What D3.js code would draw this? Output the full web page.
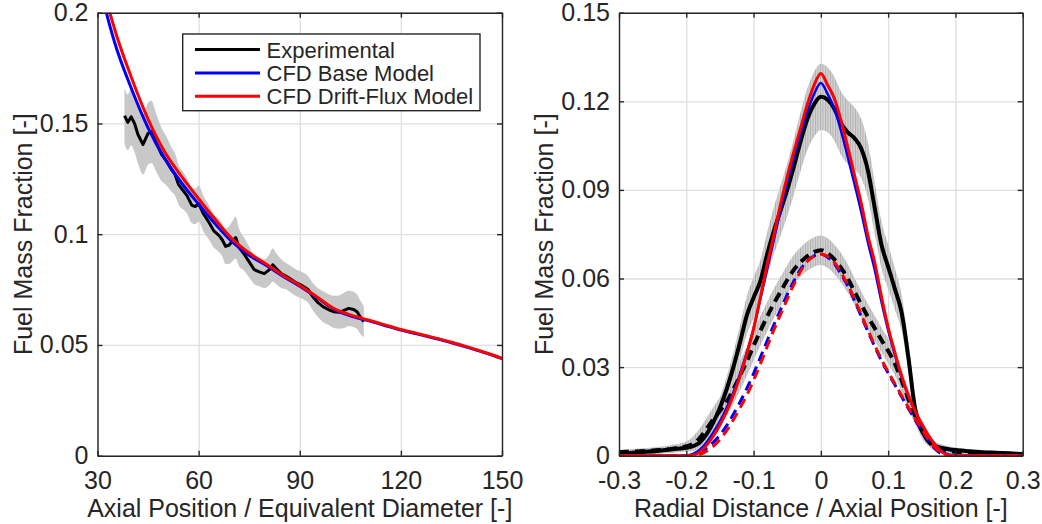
<!DOCTYPE html>
<html>
<head>
<meta charset="utf-8">
<script src="https://cdn.jsdelivr.net/npm/d3@7"></script>
<style>
  body { margin: 0; background: #fff; }
  svg text { font-family: "Liberation Sans", Arial, Helvetica, sans-serif; fill: #262626; }
</style>
</head>
<body>
<div id="chart"></div>
<script>
// Left panel: centreline decay

var axialPos = [30, 32, 35, 40, 45, 50, 55, 60, 65, 70, 75, 80, 85, 90, 95, 100, 105, 110, 115, 120, 125, 130, 135, 140, 145, 150]
var axialBase = [0.219, 0.204, 0.187, 0.166, 0.148, 0.134, 0.123, 0.1135, 0.1045, 0.0965, 0.0905, 0.086, 0.081, 0.0765, 0.0715, 0.0662, 0.0632, 0.0611, 0.0589, 0.0567, 0.0549, 0.053, 0.051, 0.0488, 0.0464, 0.0438]
var axialDrift = [0.226, 0.210, 0.193, 0.171, 0.152, 0.137, 0.126, 0.116, 0.1065, 0.0978, 0.0915, 0.0866, 0.0815, 0.0769, 0.0718, 0.0665, 0.0636, 0.0614, 0.0592, 0.057, 0.0551, 0.0532, 0.0512, 0.049, 0.0466, 0.044]

var expAxialPos = [38, 39, 40, 41, 42, 43.5, 45, 46, 47.5, 49, 50.5, 52, 53, 54, 55.5, 56.5, 58, 59, 60, 61.5,
  63, 64.5, 66, 67, 68, 69, 70, 71, 72, 73.5, 75, 76.5, 78, 79.5, 81, 82, 83, 84.5, 86, 87.5,
  89, 90.5, 92.5, 94, 95.5, 97, 98.5, 100, 101.5, 103, 104.5, 106, 107, 108, 109]
var expAxial = [0.1535, 0.1505, 0.1530, 0.1500, 0.1450, 0.1405, 0.1455, 0.1462, 0.1410, 0.1360, 0.1330, 0.1290, 0.1270, 0.1225, 0.1195, 0.1175, 0.1130, 0.1125, 0.1138, 0.1090,
  0.1055, 0.1015, 0.0995, 0.0975, 0.0945, 0.0950, 0.0968, 0.0985, 0.0940, 0.0910, 0.0875, 0.0840, 0.0830, 0.0822, 0.0840, 0.0862, 0.0845, 0.0822, 0.0810, 0.0795,
  0.0780, 0.0770, 0.0750, 0.0715, 0.0690, 0.0672, 0.0660, 0.0650, 0.0648, 0.0655, 0.0665, 0.0660, 0.0650, 0.0625, 0.0605]
var expAxialSd = [0.0125, 0.0125, 0.013, 0.013, 0.013, 0.0135, 0.014, 0.014, 0.013, 0.012, 0.011, 0.010, 0.0095, 0.009, 0.0085, 0.008, 0.008, 0.008, 0.0082, 0.008,
  0.0078, 0.0075, 0.0075, 0.0075, 0.008, 0.0085, 0.009, 0.0095, 0.0085, 0.0075, 0.007, 0.0065, 0.0065, 0.0065, 0.007, 0.0075, 0.007, 0.0065, 0.006, 0.006,
  0.006, 0.006, 0.006, 0.0062, 0.0065, 0.007, 0.007, 0.0072, 0.0075, 0.008, 0.008, 0.008, 0.0078, 0.0075, 0.007]

// Right panel: radial profiles (near = solid, far = dashed)

var radialPos = [-0.30, -0.28, -0.26, -0.24, -0.22, -0.20,
  -0.19, -0.18, -0.17, -0.16, -0.15, -0.14, -0.13, -0.12, -0.11, -0.10,
  -0.09, -0.08, -0.07, -0.06, -0.05, -0.04, -0.03, -0.02, -0.01, 0,
  0.01, 0.02, 0.03, 0.04, 0.05, 0.06, 0.07, 0.08, 0.09, 0.10,
  0.11, 0.12, 0.13, 0.14, 0.15, 0.16, 0.17, 0.18, 0.19,
  0.20, 0.22, 0.24, 0.26, 0.28, 0.30]

var nearExp = [0.0008, 0.0010, 0.0013, 0.0017, 0.0022, 0.0027,
  0.0032, 0.0045, 0.0072, 0.0112, 0.0162, 0.0225, 0.0300, 0.0385, 0.0475, 0.0535,
  0.0590, 0.0680, 0.0760, 0.0830, 0.0900, 0.0980, 0.1065, 0.1140, 0.1190, 0.1215,
  0.1205, 0.1175, 0.1125, 0.1095, 0.1075, 0.1040, 0.0965, 0.0840, 0.0715, 0.0640,
  0.0565, 0.0485, 0.0335, 0.0160, 0.0085, 0.0050, 0.0033, 0.0026, 0.0022,
  0.0019, 0.0015, 0.0012, 0.0010, 0.0008, 0.0006]
var nearSd = [0.0008, 0.0009, 0.0010, 0.0011, 0.0012, 0.0013,
  0.0015, 0.0018, 0.0022, 0.0028, 0.0035, 0.0042, 0.0050, 0.0058, 0.0065, 0.0070,
  0.0072, 0.0075, 0.0080, 0.0085, 0.0090, 0.0095, 0.0100, 0.0105, 0.0110, 0.0112,
  0.0110, 0.0108, 0.0108, 0.0108, 0.0105, 0.0100, 0.0095, 0.0088, 0.0080, 0.0075,
  0.0070, 0.0062, 0.0050, 0.0035, 0.0025, 0.0018, 0.0014, 0.0012, 0.0010,
  0.0009, 0.0008, 0.0007, 0.0006, 0.0006, 0.0005]
var nearBase = [0, 0, 0, 0, 0, 0.0001,
  0.0006, 0.0020, 0.0045, 0.0078, 0.0116, 0.0162, 0.0215, 0.0278, 0.0350, 0.0430,
  0.0530, 0.0630, 0.0730, 0.0830, 0.0925, 0.1010, 0.1090, 0.1165, 0.1225, 0.1262,
  0.1225, 0.1175, 0.1100, 0.1012, 0.0920, 0.0825, 0.0722, 0.0630, 0.0522, 0.0425,
  0.0342, 0.0265, 0.0202, 0.0150, 0.0106, 0.0068, 0.0038, 0.0015, 0.0004,
  0.0001, 0, 0, 0, 0, 0]
var nearDrift = [0, 0, 0, 0, 0, 0,
  0.0002, 0.0012, 0.0035, 0.0066, 0.0104, 0.0150, 0.0205, 0.0270, 0.0345, 0.0430,
  0.0535, 0.0645, 0.0745, 0.0850, 0.0945, 0.1030, 0.1110, 0.1190, 0.1255, 0.1294,
  0.1255, 0.1210, 0.1135, 0.1045, 0.0950, 0.0855, 0.0745, 0.0655, 0.0540, 0.0435,
  0.0350, 0.0270, 0.0205, 0.0152, 0.0108, 0.0068, 0.0036, 0.0012, 0.0002,
  0, 0, 0, 0, 0, 0]

var farExp = [0.0012, 0.0014, 0.0016, 0.0019, 0.0024, 0.0032,
  0.0040, 0.0060, 0.0090, 0.0122, 0.0152, 0.0183, 0.0225, 0.0272, 0.0320, 0.0372,
  0.0422, 0.0470, 0.0515, 0.0555, 0.0595, 0.0630, 0.0656, 0.0676, 0.0690, 0.0696,
  0.0686, 0.0665, 0.0636, 0.0600, 0.0556, 0.0512, 0.0470, 0.0432, 0.0392, 0.0355,
  0.0312, 0.0255, 0.0192, 0.0135, 0.0085, 0.0048, 0.0028, 0.0020, 0.0016,
  0.0013, 0.0010, 0.0008, 0.0006, 0.0005, 0.0004]
var farSd = [0.0008, 0.0009, 0.0010, 0.0011, 0.0013, 0.0016,
  0.0025, 0.0032, 0.0038, 0.0042, 0.0046, 0.0048, 0.0050, 0.0050, 0.0050, 0.0050,
  0.0050, 0.0050, 0.0050, 0.0050, 0.0050, 0.0050, 0.0050, 0.0050, 0.0050, 0.0050,
  0.0050, 0.0050, 0.0050, 0.0048, 0.0046, 0.0045, 0.0044, 0.0043, 0.0042, 0.0042,
  0.0040, 0.0038, 0.0034, 0.0028, 0.0020, 0.0014, 0.0010, 0.0008, 0.0007,
  0.0006, 0.0005, 0.0005, 0.0004, 0.0004, 0.0003]
var farBase = [0, 0, 0, 0, 0, 0,
  0.0002, 0.0010, 0.0025, 0.0045, 0.0070, 0.0102, 0.0140, 0.0182, 0.0228, 0.0278,
  0.0332, 0.0388, 0.0442, 0.0494, 0.0545, 0.0592, 0.0632, 0.0660, 0.0677, 0.0682,
  0.0672, 0.0650, 0.0615, 0.0575, 0.0525, 0.0472, 0.0420, 0.0370, 0.0322, 0.0280,
  0.0240, 0.0200, 0.0160, 0.0122, 0.0085, 0.0050, 0.0022, 0.0006, 0.0001,
  0, 0, 0, 0, 0, 0]
var farDrift = [0, 0, 0, 0, 0, 0,
  0, 0.0004, 0.0015, 0.0032, 0.0055, 0.0085, 0.0122, 0.0162, 0.0205, 0.0255,
  0.0310, 0.0368, 0.0425, 0.0478, 0.0530, 0.0580, 0.0625, 0.0658, 0.0676, 0.0682,
  0.0675, 0.0655, 0.0620, 0.0580, 0.0530, 0.0478, 0.0425, 0.0375, 0.0327, 0.0284,
  0.0244, 0.0204, 0.0164, 0.0126, 0.0090, 0.0055, 0.0026, 0.0008, 0.0001,
  0, 0, 0, 0, 0, 0]

// Ticks and labels

var leftXTicks = [30, 60, 90, 120, 150]
var leftYTicks = [0, 0.05, 0.1, 0.15, 0.2]
var rightXTicks = [-0.3, -0.2, -0.1, 0, 0.1, 0.2, 0.3]
var rightYTicks = [0, 0.03, 0.06, 0.09, 0.12, 0.15]
var legendLabels = ["Experimental", "CFD Base Model", "CFD Drift-Flux Model"]
var seriesColors = ["#000000", "#0000ff", "#ff0000"]

// Create the SVG

var svg = d3.select("#chart").append("svg")
    .attr("width", 1042)
    .attr("height", 524)

var defs = svg.append("defs")

// striped fill, like the patch edges in the original
var hatch = defs.append("pattern")
    .attr("id", "hatch")
    .attr("patternUnits", "userSpaceOnUse")
    .attr("width", 2.5)
    .attr("height", 10)
hatch.append("rect").attr("width", 2.5).attr("height", 10).attr("fill", "#d2d2d2")
hatch.append("rect").attr("width", 0.9).attr("height", 10).attr("fill", "#b0b0b0")

var leftBox = { left: 97.5, top: 12.7, width: 404.5, height: 443 }
var rightBox = { left: 619, top: 12.7, width: 403.7, height: 443 }

var xLeft = d3.scaleLinear().domain([30, 150]).range([leftBox.left, leftBox.left + leftBox.width])
var yLeft = d3.scaleLinear().domain([0, 0.2]).range([leftBox.top + leftBox.height, leftBox.top])
var xRight = d3.scaleLinear().domain([-0.3, 0.3]).range([rightBox.left, rightBox.left + rightBox.width])
var yRight = d3.scaleLinear().domain([0, 0.15]).range([rightBox.top + rightBox.height, rightBox.top])

function fmt(d) {
  return d === 0 ? "0" : String(d)
}

// grid lines and clip area

function drawFrame(box, x, y, xTicks, yTicks, id) {
  var g = svg.append("g")
  var bottom = box.top + box.height

  defs.append("clipPath").attr("id", id)
    .append("rect")
    .attr("x", box.left).attr("y", box.top)
    .attr("width", box.width).attr("height", box.height)

  g.append("g")
    .attr("transform", "translate(0," + bottom + ")")
    .call(d3.axisBottom(x).tickValues(xTicks).tickSize(-box.height).tickFormat(""))
    .call(function(s){ s.select(".domain").remove() })
    .selectAll("line").attr("stroke", "#dfdfdf").attr("stroke-width", 1.3)

  g.append("g")
    .attr("transform", "translate(" + box.left + ",0)")
    .call(d3.axisLeft(y).tickValues(yTicks).tickSize(-box.width).tickFormat(""))
    .call(function(s){ s.select(".domain").remove() })
    .selectAll("line").attr("stroke", "#dfdfdf").attr("stroke-width", 1.3)
}

// box with inward ticks on all four sides

function drawAxes(box, x, y, xTicks, yTicks, xLabel, yLabel) {
  var g = svg.append("g")
  var bottom = box.top + box.height
  var right = box.left + box.width

  var axes = [
    g.append("g").attr("transform", "translate(0," + bottom + ")")
      .call(d3.axisBottom(x).tickValues(xTicks).tickSize(-5).tickSizeOuter(0).tickPadding(16).tickFormat(fmt)),
    g.append("g").attr("transform", "translate(0," + box.top + ")")
      .call(d3.axisTop(x).tickValues(xTicks).tickSize(-5).tickSizeOuter(0).tickFormat("")),
    g.append("g").attr("transform", "translate(" + box.left + ",0)")
      .call(d3.axisLeft(y).tickValues(yTicks).tickSize(-5).tickSizeOuter(0).tickPadding(9).tickFormat(fmt)),
    g.append("g").attr("transform", "translate(" + right + ",0)")
      .call(d3.axisRight(y).tickValues(yTicks).tickSize(-5).tickSizeOuter(0).tickFormat(""))
  ]
  axes.forEach(function(a){
    a.attr("font-family", null).attr("font-size", 25)
    a.select(".domain").attr("stroke", "#262626").attr("stroke-width", 1.4)
    a.selectAll(".tick line").attr("stroke", "#262626").attr("stroke-width", 1.4)
    a.selectAll(".tick text").attr("fill", "#262626")
  })

  g.append("text")
    .attr("x", box.left + box.width / 2)
    .attr("y", bottom + 61)
    .attr("text-anchor", "middle")
    .attr("font-size", 25)
    .text(xLabel)

  g.append("text")
    .attr("transform", "translate(" + (box.left - 66) + "," + (box.top + box.height / 2) + ") rotate(-90)")
    .attr("text-anchor", "middle")
    .attr("font-size", 25)
    .text(yLabel)
}

drawFrame(leftBox, xLeft, yLeft, leftXTicks, leftYTicks, "clipLeft")
drawFrame(rightBox, xRight, yRight, rightXTicks, rightYTicks, "clipRight")

// Left panel data

var expRows = expAxialPos.map(function(p, i){
  return { x: p, y: expAxial[i], sd: expAxialSd[i] }
})
var baseRows = axialPos.map(function(p, i){ return { x: p, y: axialBase[i] } })
var driftRows = axialPos.map(function(p, i){ return { x: p, y: axialDrift[i] } })

var leftPlot = svg.append("g").attr("clip-path", "url(#clipLeft)")

leftPlot.append("path")
  .datum(expRows)
  .attr("fill", "#c8c8c8")
  .attr("d", d3.area()
    .x(function(d){ return xLeft(d.x) })
    .y0(function(d){ return yLeft(d.y - d.sd) })
    .y1(function(d){ return yLeft(d.y + d.sd) })
    .curve(d3.curveMonotoneX))

leftPlot.append("path")
  .datum(expRows)
  .attr("fill", "none")
  .attr("stroke", "#000")
  .attr("stroke-width", 3)
  .attr("stroke-linejoin", "round")
  .attr("d", d3.line()
    .x(function(d){ return xLeft(d.x) })
    .y(function(d){ return yLeft(d.y) }))

var smoothLeft = d3.line()
  .x(function(d){ return xLeft(d.x) })
  .y(function(d){ return yLeft(d.y) })
  .curve(d3.curveMonotoneX)

leftPlot.append("path").datum(baseRows)
  .attr("fill", "none").attr("stroke", "#0000ff").attr("stroke-width", 3)
  .attr("d", smoothLeft)
leftPlot.append("path").datum(driftRows)
  .attr("fill", "none").attr("stroke", "#ff0000").attr("stroke-width", 3)
  .attr("d", smoothLeft)

// Right panel data

function rows(values, sd) {
  return radialPos.map(function(p, i){
    return { x: p, y: values[i], sd: sd ? sd[i] : 0 }
  })
}

var rightPlot = svg.append("g").attr("clip-path", "url(#clipRight)")

var band = d3.area()
  .x(function(d){ return xRight(d.x) })
  .y0(function(d){ return yRight(Math.max(0, d.y - d.sd)) })
  .y1(function(d){ return yRight(d.y + d.sd) })
  .curve(d3.curveMonotoneX)

var smoothRight = d3.line()
  .x(function(d){ return xRight(d.x) })
  .y(function(d){ return yRight(d.y) })
  .curve(d3.curveMonotoneX)

rightPlot.append("path").datum(rows(nearExp, nearSd)).attr("fill", "url(#hatch)").attr("d", band)
rightPlot.append("path").datum(rows(farExp, farSd)).attr("fill", "url(#hatch)").attr("d", band)

var rightLines = [
  { values: nearExp, color: "#000000", width: 4, dash: null },
  { values: farExp, color: "#000000", width: 4, dash: "10,6" },
  { values: nearBase, color: "#0000ff", width: 2.5, dash: null },
  { values: farBase, color: "#0000ff", width: 3, dash: "10,6" },
  { values: nearDrift, color: "#ff0000", width: 3, dash: null },
  { values: farDrift, color: "#ff0000", width: 3, dash: "10,6" }
]

rightLines.forEach(function(s){
  rightPlot.append("path")
    .datum(rows(s.values))
    .attr("fill", "none")
    .attr("stroke", s.color)
    .attr("stroke-width", s.width)
    .attr("stroke-dasharray", s.dash)
    .attr("d", smoothRight)
})

drawAxes(leftBox, xLeft, yLeft, leftXTicks, leftYTicks, "Axial Position / Equivalent Diameter [-]", "Fuel Mass Fraction [-]")
drawAxes(rightBox, xRight, yRight, rightXTicks, rightYTicks, "Radial Distance / Axial Position [-]", "Fuel Mass Fraction [-]")

// Legend

var legend = svg.append("g")

legend.append("rect")
  .attr("x", 182.7).attr("y", 34)
  .attr("width", 297.3).attr("height", 76.7)
  .attr("fill", "#fff")
  .attr("stroke", "#262626")
  .attr("stroke-width", 1.4)

legendLabels.forEach(function(label, i){
  var cy = 49.5 + i * 23.4
  legend.append("line")
    .attr("x1", 195).attr("x2", 260)
    .attr("y1", cy).attr("y2", cy)
    .attr("stroke", seriesColors[i])
    .attr("stroke-width", 3)
  legend.append("text")
    .attr("x", 266.5).attr("y", cy + 8)
    .attr("font-size", 22)
    .text(label)
})
</script>
</body>
</html>
